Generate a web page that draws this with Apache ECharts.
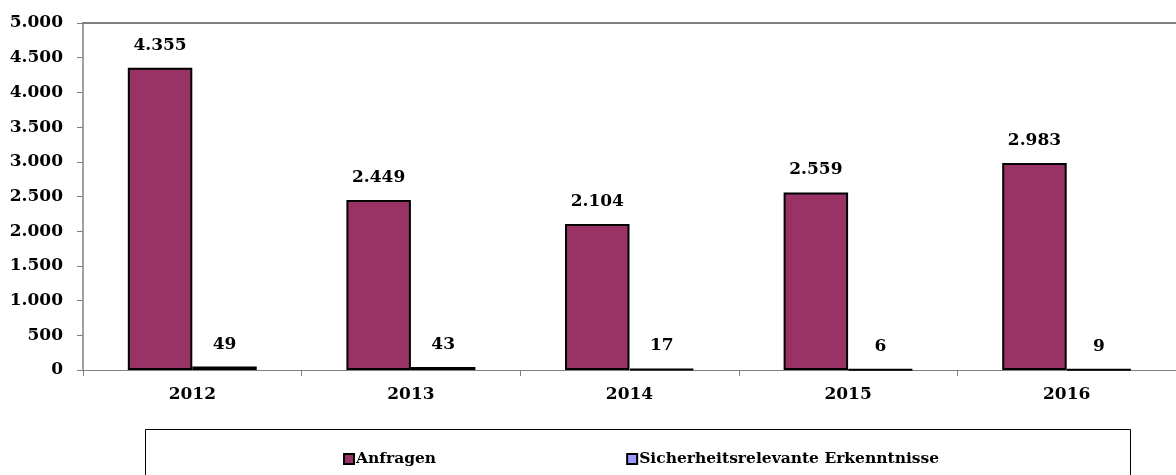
<!DOCTYPE html>
<html>
<head>
<meta charset="utf-8">
<script src="https://cdn.jsdelivr.net/npm/echarts@6/dist/echarts.min.js"></script>
<style>
  html, body { margin: 0; padding: 0; background: #fff; }
  #chart { width: 1176px; height: 475px; }
</style>
</head>
<body>
<div id="chart"></div>
<script>
var years = ['2012', '2013', '2014', '2015', '2016'];
var anfragen = [4355, 2449, 2104, 2559, 2983];
var erkenntnisse = [49, 43, 17, 6, 9];
var seriesNames = ['Anfragen', 'Sicherheitsrelevante Erkenntnisse'];

var FONT = 'DejaVu Serif';

function fmt(v) {
  return String(v).replace(/\B(?=(\d{3})+(?!\d))/g, '.');
}

var myChart = echarts.init(document.getElementById('chart'));
var labelStyle = {
  show: true,
  position: 'top',
  distance: 14,
  fontFamily: FONT,
  fontWeight: 'bold',
  fontSize: 17,
  color: '#000',
  formatter: function (p) { return fmt(p.value); }
};
var option = {
  animation: false,
  grid: {
    left: 83,
    right: 0,
    top: 23,
    bottom: 105
  },
  graphic: [{
    type: 'rect',
    shape: { x: 145.5, y: 429.5, width: 985, height: 60 },
    style: { fill: 'none', stroke: '#000', lineWidth: 1 }
  }],
  legend: {
    left: 338,
    top: 446,
    itemWidth: 10,
    itemHeight: 10,
    itemGap: 190,
    icon: 'rect',
    textStyle: {
      fontFamily: FONT,
      fontWeight: 'bold',
      fontSize: 15.5,
      color: '#000',
      padding: [0, 0, 0, -3]
    },
    data: seriesNames
  },
  xAxis: [{
    type: 'category',
    data: years,
    axisLine: { lineStyle: { color: '#808080', width: 1 } },
    axisTick: { show: true, length: 6, lineStyle: { color: '#808080' } },
    axisLabel: {
      margin: 16,
      fontFamily: FONT,
      fontWeight: 'bold',
      fontSize: 17,
      color: '#000'
    }
  }, {
    // top frame line
    type: 'category',
    data: years,
    position: 'top',
    axisLine: { lineStyle: { color: '#808080', width: 2 } },
    axisTick: { show: false },
    axisLabel: { show: false }
  }],
  yAxis: {
    type: 'value',
    min: 0,
    max: 5000,
    interval: 500,
    axisLine: { show: true, lineStyle: { color: '#808080', width: 1.5 } },
    axisTick: { show: true, length: 6, lineStyle: { color: '#808080' } },
    splitLine: { show: false },
    axisLabel: {
      margin: 20,
      fontFamily: FONT,
      fontWeight: 'bold',
      fontSize: 17,
      color: '#000',
      formatter: fmt
    }
  },
  series: [{
    name: seriesNames[0],
    type: 'bar',
    data: anfragen,
    barGap: '0%',
    barCategoryGap: '41%',
    itemStyle: { color: '#993366', borderColor: '#000', borderWidth: 2 },
    label: labelStyle
  }, {
    name: seriesNames[1],
    type: 'bar',
    data: erkenntnisse,
    itemStyle: { color: '#9999FF', borderColor: '#000', borderWidth: 2 },
    label: labelStyle
  }]
};
myChart.setOption(option);
</script>
</body>
</html>
